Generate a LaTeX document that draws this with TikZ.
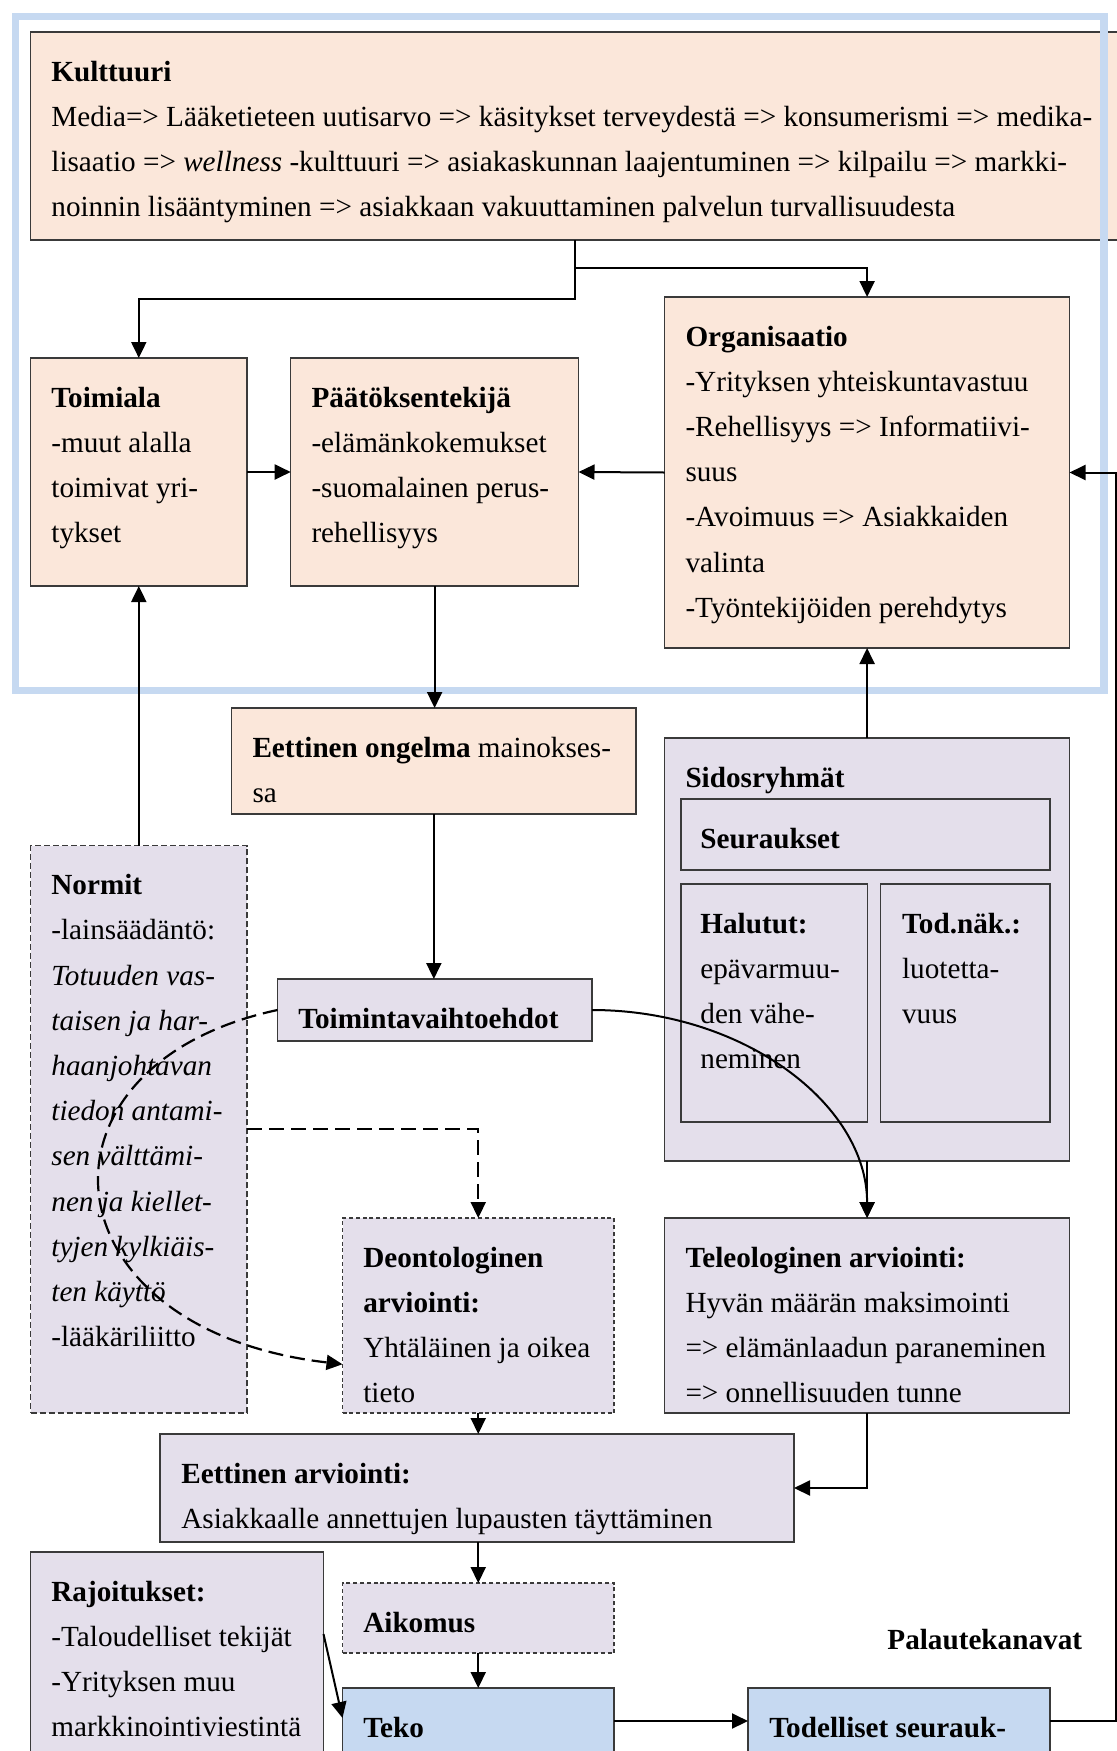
\documentclass[tikz,border=0pt]{standalone}
\usepackage{fontspec}
\setmainfont{Liberation Serif}
\usetikzlibrary{arrows.meta,calc}
\definecolor{peach}{HTML}{FBE7DA}
\definecolor{lilac}{HTML}{E4DFEB}
\definecolor{skyfill}{HTML}{C6D9F1}
\definecolor{frameblue}{HTML}{C6D9F1}
\definecolor{edge}{HTML}{3A3A3A}
% stacked lines with a fixed baseline distance; the node baseline is the first line
\newcommand\ml[1]{\vtop{\baselineskip=22.6pt\lineskiplimit=-\maxdimen\lineskip=0pt
  \def\\{\egroup\hbox\bgroup\ignorespaces}\hbox\bgroup#1\egroup}}
\begin{document}
\begin{tikzpicture}[x=0.5pt,y=-0.5pt,
  box/.style={draw=edge,line width=0.7pt,inner sep=0pt,outer sep=0pt,anchor=north west},
  warm/.style={box,fill=peach},
  cool/.style={box,fill=lilac},
  sky/.style={box,fill=skyfill},
  dbox/.style={cool,dash pattern=on 3pt off 1.5pt},
  fbox/.style={cool,dash pattern=on 2pt off 1.4pt},
  txt/.style={anchor=base west,inner sep=0pt,font=\fontsize{14.6pt}{22.6pt}\selectfont},
  arr/.style={line width=1pt,-{Triangle[length=8pt,width=7.5pt]}},
  darr/.style={arr,line width=1.1pt,dash pattern=on 7.5pt off 3.5pt},
]
\useasboundingbox (0,0) rectangle (1117,1751);
\clip (0,0) rectangle (1117,1751);

% ---- boxes ----
\node[warm, minimum width=550pt,    minimum height=104pt]   (kult)     at (30.6,32)    {};
\node[warm, minimum width=108.2pt,  minimum height=114pt]   (toimiala) at (30.6,358)   {};
\node[warm, minimum width=143.9pt,  minimum height=114pt]   (paat)     at (290.7,358)  {};
\node[warm, minimum width=202.4pt,  minimum height=175.5pt] (org)      at (664.7,297)  {};
\node[warm, minimum width=202.15pt, minimum height=53pt]    (ongelma)  at (231.7,708)  {};
\node[cool, minimum width=157.25pt, minimum height=31pt]    (toim)     at (277.5,979)  {};
\node[cool, minimum width=202.4pt,  minimum height=211.5pt] (sidos)    at (664.7,738)  {};
\node[cool, minimum width=184.5pt,  minimum height=35.5pt]  (seur)     at (681,799)    {};
\node[cool, minimum width=93.25pt,  minimum height=119pt]   (halu)     at (681,884)    {};
\node[cool, minimum width=84.65pt,  minimum height=119pt]   (todnak)   at (880.7,884)  {};
\node[dbox, minimum width=108.2pt,  minimum height=283.65pt](normit)   at (30.6,845.7) {};
\node[fbox, minimum width=135.75pt, minimum height=97.5pt]  (deont)    at (342.5,1218) {};
\node[cool, minimum width=202.4pt,  minimum height=97.5pt]  (teleo)    at (664.7,1218) {};
\node[cool, minimum width=317pt,    minimum height=54pt]    (arv)      at (160,1434)   {};
\node[fbox, minimum width=135.75pt, minimum height=35pt]    (aikomus)  at (342.5,1583) {};
\node[sky,  minimum width=135.75pt, minimum height=33pt]    (teko)     at (342.5,1688) {};
\node[sky,  minimum width=151pt,    minimum height=33pt]    (todel)    at (748,1688)   {};
\node[cool, minimum width=146.45pt, minimum height=125pt]   (rajo)     at (30.6,1552)  {};

% ---- texts ----
\node[txt] (kult-t) at ($(kult.north west)+(20.4,49)$) {\ml{\textbf{Kulttuuri}\\%
  Media=> Lääketieteen uutisarvo => käsitykset terveydestä => konsumerismi => medika-\\%
  lisaatio => \textit{wellness} -kulttuuri => asiakaskunnan laajentuminen => kilpailu => markki-\\%
  noinnin lisääntyminen => asiakkaan vakuuttaminen palvelun turvallisuudesta}};
\node[txt] (toimiala-t) at ($(toimiala.north west)+(20.4,49)$) {\ml{\textbf{Toimiala}\\-muut alalla\\toimivat yri-\\tykset}};
\node[txt] (paat-t) at ($(paat.north west)+(20.4,49)$) {\ml{\textbf{Päätöksentekijä}\\-elämänkokemukset\\-suomalainen perus-\\rehellisyys}};
\node[txt] (org-t) at ($(org.north west)+(20.4,49)$) {\ml{\textbf{Organisaatio}\\-Yrityksen yhteiskuntavastuu\\-Rehellisyys => Informatiivi-\\suus\\-Avoimuus => Asiakkaiden\\valinta\\-Työntekijöiden perehdytys}};
\node[txt] (ongelma-t) at ($(ongelma.north west)+(20.4,49)$) {\ml{\textbf{Eettinen ongelma} mainokses-\\sa}};
\node[txt] (toim-t) at ($(toim.north west)+(20.4,49)$) {\ml{\textbf{Toimintavaihtoehdot}}};
\node[txt] (sidos-t) at ($(sidos.north west)+(20.4,49)$) {\ml{\textbf{Sidosryhmät}}};
\node[txt] (seur-t) at ($(seur.north west)+(19,49)$) {\ml{\textbf{Seuraukset}}};
\node[txt] (halu-t) at ($(halu.north west)+(19,49)$) {\ml{\textbf{Halutut:}\\epävarmuu-\\den vähe-\\neminen}};
\node[txt] (todnak-t) at ($(todnak.north west)+(21,49)$) {\ml{\textbf{Tod.näk.:}\\luotetta-\\vuus}};
\node[txt] (normit-t) at ($(normit.north west)+(20.4,49)$) {\ml{\textbf{Normit}\\-lainsäädäntö:\\%
  \textit{Totuuden vas-}\\\textit{taisen ja har-}\\\textit{haanjohtavan}\\\textit{tiedon antami-}\\%
  \textit{sen välttämi-}\\\textit{nen ja kiellet-}\\\textit{tyjen kylkiäis-}\\\textit{ten käyttö}\\-lääkäriliitto}};
\node[txt] (deont-t) at ($(deont.north west)+(20.4,49)$) {\ml{\textbf{Deontologinen}\\\textbf{arviointi:}\\Yhtäläinen ja oikea\\tieto}};
\node[txt] (teleo-t) at ($(teleo.north west)+(20.4,49)$) {\ml{\textbf{Teleologinen arviointi:}\\Hyvän määrän maksimointi\\=> elämänlaadun paraneminen\\=> onnellisuuden tunne}};
\node[txt] (arv-t) at ($(arv.north west)+(21,49)$) {\ml{\textbf{Eettinen arviointi:}\\Asiakkaalle annettujen lupausten täyttäminen}};
\node[txt] (aikomus-t) at ($(aikomus.north west)+(20.4,49)$) {\ml{\textbf{Aikomus}}};
\node[txt] (teko-t) at ($(teko.north west)+(20.4,49)$) {\ml{\textbf{Teko}}};
\node[txt] (todel-t) at ($(todel.north west)+(21,49)$) {\ml{\textbf{Todelliset seurauk-}}};
\node[txt] (rajo-t) at ($(rajo.north west)+(20.4,49)$) {\ml{\textbf{Rajoitukset:}\\-Taloudelliset tekijät\\-Yrityksen muu\\markkinointiviestintä}};
\node[txt] (palaute) at (887,1649) {\textbf{Palautekanavat}};

% ---- context frame ----
\node[draw=frameblue, line width=3.7pt, inner sep=0pt, anchor=north west,
      minimum width=544.2pt, minimum height=337pt] (context) at (12,13) {};

% ---- connectors ----
\coordinate (kbend)  at (575,268);
\coordinate (kbend2) at (575,299);
\draw[arr] (kult.south -| kbend) -- (kbend) -| (org.north);
\draw[arr] (kbend) -- (kbend2) -| (toimiala.north);
\draw[arr] (toimiala.east) -- (paat.west);
\draw[arr] (org.west) -- (paat.east);
\draw[arr] (paat.south) -- (paat.south |- ongelma.north);
\draw[arr] (ongelma.south) -- (ongelma.south |- toim.north);
\draw[arr] (normit.north) -- (toimiala.south);
\draw[arr] (sidos.north) -- (org.south);
\draw[darr] (normit.east) -| (deont.north);
\draw[darr] (toim.west) .. controls +(-257,55) and +(-301,-35) .. ($(deont.north west)!0.75!(deont.south west)$);
\draw[arr] (toim.east) .. controls +(151,0) and +(0,-114) .. (teleo.north);
\draw[arr] (sidos.south) -- (teleo.north);
\draw[arr] (teleo.south) |- (arv.east);
\draw[arr] (deont.south) -- (deont.south |- arv.north);
\draw[arr] (aikomus.north |- arv.south) -- (aikomus.north);
\draw[arr] (aikomus.south) -- (teko.north);
\draw[arr] ($(rajo.north east)+(0,82)$) -- ($(teko.north west)+(0,30)$);
\draw[arr] (teko.east) -- (todel.west);
\coordinate (fb) at (1116,1721);
\draw[arr] (todel.east) -- (fb) |- (org.east);
\end{tikzpicture}
\end{document}
